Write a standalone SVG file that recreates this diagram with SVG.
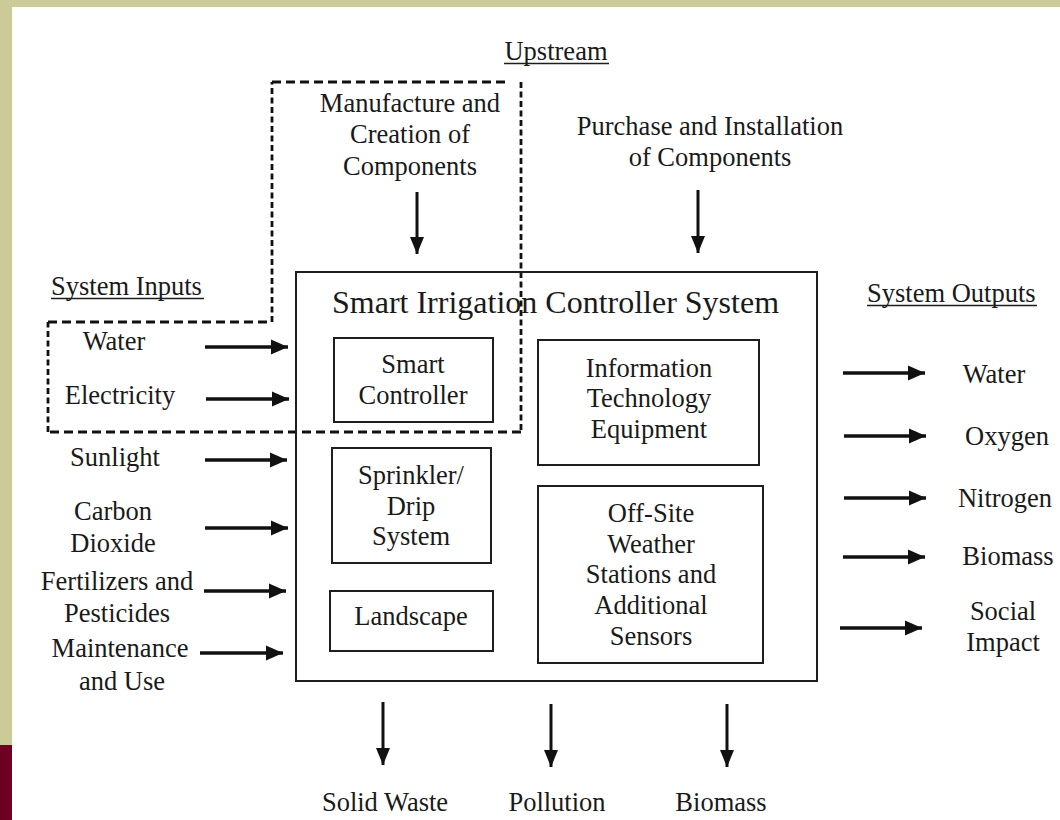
<svg xmlns="http://www.w3.org/2000/svg" width="1060" height="820" viewBox="0 0 1060 820">
<style>
text{font-family:"Liberation Serif","Times New Roman",serif;font-size:26.5px;fill:#1a1a1a;}
.c{text-anchor:middle;}
.title{font-size:32px;}
.box{fill:none;stroke:#1e1e1e;stroke-width:2;}
.ul{stroke:#1e1e1e;stroke-width:1.6;}
.arr{stroke:#111;stroke-width:3.6;fill:none;marker-end:url(#ah);}
.varr{stroke:#111;stroke-width:3;fill:none;marker-end:url(#vh);}
.dh{stroke:#111;stroke-width:2.8;fill:none;stroke-dasharray:9 5;}
.dv{stroke:#111;stroke-width:2.8;fill:none;stroke-dasharray:6 3.5;}
</style>
<defs>
<marker id="ah" markerUnits="userSpaceOnUse" markerWidth="18" markerHeight="18" refX="17" refY="9" orient="auto">
<path d="M0,1.5 L17,9 L0,16.5 z" fill="#111"/>
</marker>
<marker id="vh" markerUnits="userSpaceOnUse" markerWidth="18" markerHeight="18" refX="17" refY="9" orient="auto">
<path d="M0,2 L17,9 L0,16 z" fill="#111"/>
</marker>
</defs>
<rect x="0" y="0" width="1060" height="820" fill="#cccb97"/>
<rect x="12" y="7" width="1048" height="813" fill="#ffffff"/>
<rect x="0" y="745" width="12" height="75" fill="#6e0022"/>

<g id="upstream-boundary">
<line class="dh" x1="48" y1="322" x2="272" y2="322"/>
<line class="dv" x1="272" y1="322" x2="272" y2="82"/>
<line class="dh" x1="272" y1="82" x2="510" y2="82"/>
<line class="dv" x1="521" y1="82" x2="521" y2="432"/>
<line class="dh" x1="521" y1="432" x2="48" y2="432"/>
<line class="dv" x1="48" y1="432" x2="48" y2="322"/>
</g>

<g id="upstream-label">
<text class="c" x="556" y="60">Upstream</text>
<line class="ul" x1="504" y1="63.5" x2="609" y2="63.5"/>
</g>
<g id="manufacture">
<text class="c" x="410" y="112">Manufacture and</text>
<text class="c" x="410" y="143">Creation of</text>
<text class="c" x="410" y="175">Components</text>
</g>
<g id="purchase">
<text class="c" x="710" y="135">Purchase and Installation</text>
<text class="c" x="710" y="166">of Components</text>
</g>

<g id="system">
<rect class="box" x="296" y="272" width="521" height="409"/>
<text class="title" x="332" y="313">Smart Irrigation Controller System</text>
</g>
<g id="smart-controller">
<rect class="box" x="334" y="338" width="159" height="84"/>
<text class="c" x="413" y="373">Smart</text>
<text class="c" x="413" y="404">Controller</text>
</g>
<g id="it-equipment">
<rect class="box" x="538" y="340" width="221" height="125"/>
<text class="c" x="649" y="377">Information</text>
<text class="c" x="649" y="407">Technology</text>
<text class="c" x="649" y="438">Equipment</text>
</g>
<g id="sprinkler">
<rect class="box" x="332" y="448" width="159" height="115"/>
<text class="c" x="411" y="484">Sprinkler/</text>
<text class="c" x="411" y="515">Drip</text>
<text class="c" x="411" y="545">System</text>
</g>
<g id="landscape">
<rect class="box" x="330" y="591" width="163" height="60"/>
<text class="c" x="411" y="625">Landscape</text>
</g>
<g id="weather">
<rect class="box" x="538" y="486" width="225" height="177"/>
<text class="c" x="651" y="522">Off-Site</text>
<text class="c" x="651" y="553">Weather</text>
<text class="c" x="651" y="583">Stations and</text>
<text class="c" x="651" y="614">Additional</text>
<text class="c" x="651" y="645">Sensors</text>
</g>

<g id="inputs">
<text x="51" y="295">System Inputs</text>
<line class="ul" x1="51" y1="298.5" x2="204" y2="298.5"/>
<text class="c" x="114" y="350">Water</text>
<text class="c" x="120" y="404">Electricity</text>
<text class="c" x="115" y="466">Sunlight</text>
<text class="c" x="113" y="520">Carbon</text>
<text class="c" x="113" y="552">Dioxide</text>
<text class="c" x="117" y="590">Fertilizers and</text>
<text class="c" x="117" y="622">Pesticides</text>
<text class="c" x="120" y="657">Maintenance</text>
<text class="c" x="122" y="690">and Use</text>
</g>

<g id="outputs">
<text x="867" y="302">System Outputs</text>
<line class="ul" x1="867" y1="305.5" x2="1037" y2="305.5"/>
<text class="c" x="994" y="383">Water</text>
<text class="c" x="1007" y="445">Oxygen</text>
<text class="c" x="1005" y="507">Nitrogen</text>
<text class="c" x="1008" y="565">Biomass</text>
<text class="c" x="1003" y="620">Social</text>
<text class="c" x="1003" y="651">Impact</text>
</g>

<g id="downstream">
<text class="c" x="385" y="811">Solid Waste</text>
<text class="c" x="557" y="811">Pollution</text>
<text class="c" x="721" y="811">Biomass</text>
</g>

<g id="connectors">
<line class="varr" x1="417" y1="192" x2="417" y2="254"/>
<line class="varr" x1="698" y1="190" x2="698" y2="253"/>
<line class="arr" x1="205" y1="347" x2="288" y2="347"/>
<line class="arr" x1="206" y1="399" x2="289" y2="399"/>
<line class="arr" x1="205" y1="460" x2="287" y2="460"/>
<line class="arr" x1="205" y1="528" x2="288" y2="528"/>
<line class="arr" x1="204" y1="591" x2="286" y2="591"/>
<line class="arr" x1="200" y1="653" x2="283" y2="653"/>
<line class="arr" x1="843" y1="373" x2="925" y2="373"/>
<line class="arr" x1="844" y1="436" x2="926" y2="436"/>
<line class="arr" x1="844" y1="498" x2="926" y2="498"/>
<line class="arr" x1="843" y1="557" x2="925" y2="557"/>
<line class="arr" x1="840" y1="628" x2="922" y2="628"/>
<line class="varr" x1="383" y1="702" x2="383" y2="765"/>
<line class="varr" x1="551" y1="704" x2="551" y2="767"/>
<line class="varr" x1="727" y1="704" x2="727" y2="767"/>
</g>
</svg>
